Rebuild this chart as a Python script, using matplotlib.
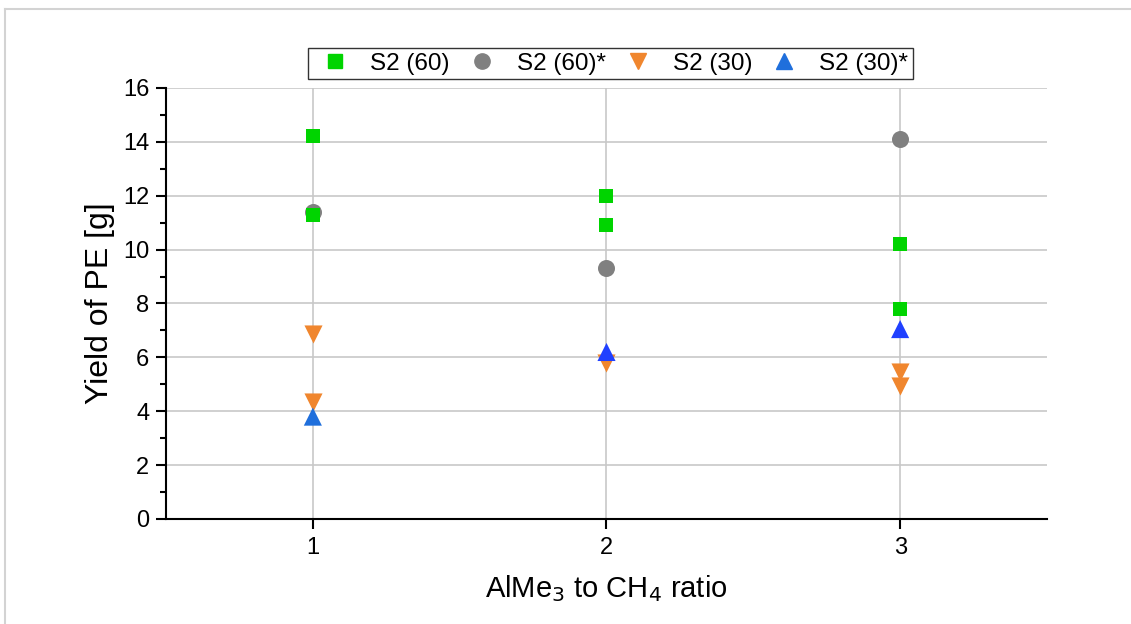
import matplotlib
matplotlib.use("Agg")
import matplotlib.pyplot as plt
from matplotlib.lines import Line2D

plt.rcParams['font.family'] = ['Liberation Sans', 'DejaVu Sans']

# Data
s60_x = [1, 1, 2, 2, 3, 3]
s60_y = [14.2, 11.3, 12.0, 10.9, 10.2, 7.8]
s60s_x = [1, 2, 3]
s60s_y = [11.4, 9.3, 14.1]
s30_x = [1, 1, 2, 3, 3]
s30_y = [6.85, 4.35, 5.8, 5.45, 4.95]
s30s_x = [1, 2, 3]
s30s_y = [3.8, 6.2, 7.05]
s30s_colors = ['#1f6fdc', '#2040ff', '#2040ff']
labels = ['S2 (60)', 'S2 (60)*', 'S2 (30)', 'S2 (30)*']
xticks = [1, 2, 3]

fig = plt.figure(figsize=(11.31, 6.24), dpi=100)
ax = fig.add_axes([0.1468, 0.1683, 0.9257 - 0.1468, 0.859 - 0.1683])

ax.grid(True, color='#c8c8c8', linewidth=1.2, zorder=0)
ax.set_axisbelow(True)

ax.scatter(s60s_x, s60s_y, marker='o', s=150, color='#808080', zorder=3, linewidths=0)
ax.scatter(s60_x, s60_y, marker='s', s=110, color='#00d400', zorder=4, linewidths=0)
ax.scatter(s30_x, s30_y, marker='v', s=170, color='#f0862e', zorder=3, linewidths=0)
ax.scatter(s30s_x, s30s_y, marker='^', s=170, c=s30s_colors, zorder=4, linewidths=0)

ax.set_xlim(0.5, 3.5)
ax.set_ylim(0, 16)
ax.set_xticks(xticks)
ax.set_yticks(range(0, 17, 2))
ax.set_yticks(range(1, 16, 2), minor=True)
ax.tick_params(axis='both', which='major', direction='out', length=7, width=1.5, labelsize=17, color='black')
ax.tick_params(axis='y', which='minor', direction='out', length=4, width=1.5)
ax.tick_params(axis='x', which='major', pad=6)
ax.tick_params(axis='y', which='major', pad=5)
for sp in ['top', 'right']:
    ax.spines[sp].set_visible(False)
for sp in ['left', 'bottom']:
    ax.spines[sp].set_linewidth(1.5)

ax.set_ylabel('Yield of PE [g]', fontsize=23, labelpad=6)
ax.set_xlabel('AlMe$_3$ to CH$_4$ ratio', fontsize=21, labelpad=10)

handles = [
    Line2D([], [], linestyle='none', marker='s', markersize=10, color='#00d400'),
    Line2D([], [], linestyle='none', marker='o', markersize=11, color='#808080'),
    Line2D([], [], linestyle='none', marker='v', markersize=12, color='#f0862e'),
    Line2D([], [], linestyle='none', marker='^', markersize=12, color='#1f6fdc'),
]
leg = ax.legend(handles, labels, ncol=4, loc='lower center', bbox_to_anchor=(0.505, 1.0),
                fontsize=17.5, frameon=True, fancybox=False, edgecolor='black',
                handletextpad=0.54, columnspacing=0.42, borderpad=0.2, handlelength=1.8,
                borderaxespad=0.35)
leg.get_frame().set_linewidth(1.0)

# figure border remnants (top and left)
fig.add_artist(Line2D([0.004, 1.0], [0.985, 0.985], transform=fig.transFigure, color='#d3d3d3', linewidth=1.5))
fig.add_artist(Line2D([0.004, 0.004], [0.0, 0.985], transform=fig.transFigure, color='#d3d3d3', linewidth=1.5))

fig.savefig('out.png', dpi=100)
